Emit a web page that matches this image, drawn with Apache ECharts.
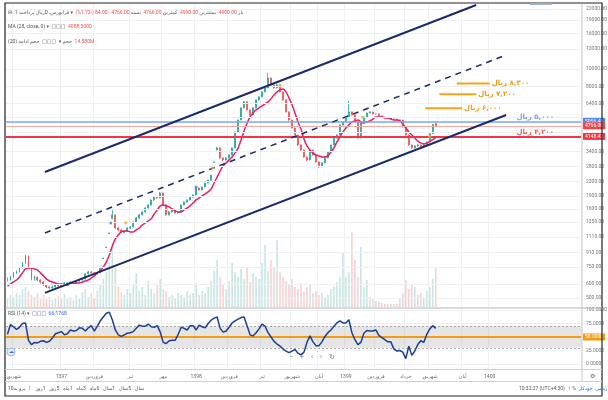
<!DOCTYPE html>
<html><head><meta charset="utf-8">
<script src="https://cdn.jsdelivr.net/npm/echarts@6/dist/echarts.min.js"></script>
<style>html,body{margin:0;padding:0;background:#fff}#c{width:608px;height:400px}</style>
</head><body><div id="c"></div>
<script>
// ---------------- DATA ----------------
const SLOTS = 192;
// [open, close, low, high]
const candles = [
[640,633,620,655],[633,659,628,668],[659,695,650,702],[695,704,685,718],[704,741,698,752],[741,791,735,800],[791,868,785,880],[868,741,735,872],[741,642,630,748],[642,659,628,670],
[659,633,625,664],[633,617,605,640],[617,593,585,622],[593,578,570,600],[578,570,560,585],[570,578,563,588],[578,593,572,600],[593,585,578,598],[585,593,580,600],[593,609,588,615],
[609,601,595,614],[601,617,596,622],[617,609,603,621],[609,625,605,630],[625,633,618,640],[633,642,628,650],[642,686,638,692],[686,704,680,712],[704,695,688,710],[695,686,678,700],
[686,695,680,702],[695,741,692,745],[838,845,835,845],[968,976,965,976],[1162,1172,1160,1172],[1420,1485,1400,1580],[1485,1251,1240,1490],[1251,1219,1200,1270],[1219,1188,1175,1235],[1180,1200,1165,1215],
[1200,1251,1195,1262],[1251,1268,1235,1280],[1268,1353,1260,1365],[1353,1428,1345,1440],[1428,1485,1410,1500],[1485,1544,1470,1560],[1544,1627,1530,1640],[1627,1692,1610,1705],[1692,1806,1680,1820],[1806,1878,1790,1895],
[1878,1854,1830,1890],[1854,1979,1845,2000],[1979,1692,1680,1985],[1692,1485,1470,1700],[1485,1544,1475,1560],[1544,1585,1530,1600],[1585,1524,1510,1595],[1524,1544,1510,1560],[1544,1692,1540,1700],[1692,1759,1680,1770],
[1759,1806,1745,1820],[1806,1878,1795,1890],[1878,1928,1860,1945],[1928,2112,1920,2120],[2112,2058,2040,2125],[2058,2140,2050,2150],[2140,2255,2130,2265],[2255,2345,2245,2350],[2340,2504,2335,2504],[2950,2971,2940,2975],
[3480,3567,3450,3620],[3567,3130,3100,3580],[3130,3050,3000,3150],[3050,3130,3030,3160],[3130,3255,3110,3270],[3255,3567,3240,3580],[3567,4397,3560,4410],[4397,5144,4390,5160],[5144,6033,5130,6050],[6033,6523,6000,6600],
[6523,5870,5820,6540],[5870,5500,5450,5900],[5500,6033,5480,6060],[6033,6696,6010,6720],[6696,6962,6650,7000],[6962,7430,6940,7460],[7430,7827,7400,7860],[7827,8916,7800,9500],[8916,8140,8050,8950],[8140,7827,7750,8200],
[7827,8140,7780,8300],[8140,7430,7380,8160],[7430,6696,6650,7450],[6696,5720,5680,6710],[5720,5144,5100,5750],[5144,4634,4600,5160],[4634,4228,4200,4650],[4228,3710,3680,4240],[3710,3475,3440,3730],[3475,3171,3140,3490],
[3171,3050,3000,3190],[3050,3475,3030,3500],[3475,3255,3220,3490],[3255,2971,2940,3270],[2971,2783,2750,2990],[2783,2933,2770,2950],[2933,3130,2920,3150],[3130,3385,3120,3400],[3385,3710,3370,3730],[3710,4065,3700,4080],
[4065,4228,4040,4260],[4228,4819,4210,4840],[4819,5011,4790,5040],[5011,5280,4990,5310],[5280,5720,5260,6600],[5720,5500,5450,5740],[5500,5011,4980,5520],[5011,4065,4040,5030],[4065,5011,4050,5030],[5011,5355,4990,5380],
[5355,5640,5340,5670],[5640,5720,5600,5760],[5720,5570,5540,5740],[5570,5570,5540,5600],[5570,5430,5410,5580],[5430,5355,5350,5440],[5355,5280,5270,5360],[5280,5280,5270,5290],[5280,5210,5200,5285],[5210,5210,5200,5220],
[5210,5144,5140,5215],[5144,5144,5130,5160],[5144,4695,4660,5150],[4695,4228,4200,4710],[4228,3710,3680,4240],[3710,3567,3520,3730],[3567,3662,3540,3700],[3662,3710,3630,3750],[3710,3614,3580,3730],[3614,3710,3590,3740],
[3710,3858,3700,3880],[3858,4300,3850,4320],[4300,4850,4290,4870],[4900,4766,4700,4990]
];
const maValues = [
585,601,617,633,659,695,732,741,741,732,
723,695,668,642,625,617,609,601,601,593,
593,601,601,609,609,617,625,633,650,668,
695,714,751,802,879,989,1084,1142,1188,1203,
1203,1188,1188,1219,1251,1301,1336,1371,1409,1504,
1585,1670,1692,1670,1648,1606,1564,1544,1544,1585,
1627,1670,1736,1806,1854,1903,1953,2005,2085,2255,
2439,2638,2820,2933,3050,3171,3341,3567,3960,4454,
4946,5355,5640,5870,6033,6193,6355,6523,6782,7146,
7430,7627,7725,7430,6870,6274,5640,5011,4573,4012,
3662,3475,3341,3255,3213,3171,3171,3213,3385,3567,
3858,4119,4397,4634,4819,5011,5077,5144,5011,4946,
5011,5077,5210,5355,5355,5355,5280,5280,5210,5144,
5144,5077,4882,4634,4397,4228,4065,3909,3808,3760,
3800,3880,3980,4088
];
// volume, millions
const volumes = [
3,4.5,3.75,5.25,4.5,6.75,7.5,6,4.5,3.75,
5.25,3.4,4.5,3,3.75,2.6,3.4,4.1,3,4.9,
3.4,3.75,2.6,4.5,3.4,5.6,6.75,3.75,5.25,3.4,
6,8.25,10.5,13.1,16.9,22.5,15,7.5,5.6,4.5,
6.75,5.25,8.25,12.75,6,7.5,4.5,9.75,6.75,5.25,
8.25,10.5,6.75,6,3.75,4.5,3.4,5.25,4.5,3.75,
6,4.5,5.25,9,4.5,6,5.25,7.5,9.75,13.5,
17.6,11.25,8.25,6.75,9.75,16.5,13.1,11.25,14.25,10.5,
15,9.4,12.75,11.25,10.5,16.5,23.25,13.5,17.6,15,
25.1,13.1,11.25,9.75,8.25,10.5,7.5,6.75,9,5.6,
7.5,8.25,5.25,6,4.5,5.25,3.75,4.5,6.75,7.5,
9.4,11.25,20.6,11.25,13.1,28.1,17.6,11.25,22.5,7.5,
10.1,3.75,3,2.25,1.9,1.5,1.1,1.1,1.1,1.1,
1.1,3,5.25,10.1,6.75,8.25,7.5,4.5,5.25,3.75,
6,7.5,10.5,14.58
];
const rsiValues = [
55,73,69,64,68,75,76,44,36,40,
39,42,43,40,42,48,56,58,60,54,
56,63,61,62,67,66,61,67,71,61,
70,80,87,94,96,82,63,54,51,54,
57,58,60,66,72,70,70,74,69,68,
71,59,40,38,43,44,44,55,68,66,
63,71,71,63,72,69,67,75,81,85,
87,66,59,61,68,76,80,83,86,87,
71,54,52,58,65,74,70,58,50,42,
37,33,28,24,21,24,27,20,17,22,
40,52,41,34,34,41,51,58,63,70,
76,80,76,76,82,58,45,36,40,57,
62,61,61,63,53,49,45,41,41,28,
24,25,22,10,33,16,24,36,43,40,
55,65,71,66
];
const priceTicks = [22000,19000,16000,13000,10000,8000,6400,5300,4400,3400,2800,2300,1900,1600,1350,1110,910,750,600,500];
const hiddenPriceTicks = [5300,4400];
const rsiTicks = [100,75,25,0];
const timeTickSlots = [2,18,29,41,52,63,74,85,95,104,113,123,133,141,152,161];
const timeTickLabels = ['شهریور','1397','فروردین','تیر','مهر','1398','فروردین','تیر','شهریور','آبان','1399','فروردین','خرداد','شهریور','آبان','1400'];
// trend channel drawn on chart: [slot, price]
const upperChannel = [[12.5,2604],[156.5,23190]];
const middleChannel = [[12.5,1172],[166.5,12045]];
const lowerChannel = [[12.5,535],[166.5,5491]];
// price levels
const levelValues = [5056.48, 4766.00, 4148.42];
// target levels
const targetPrices = [8300, 7200, 6000];
const targetSpans = [[150,161],[144.2,156.5],[139.5,151.8]];
const targetTexts = ['ریال\u200E ۸,۳۰۰','ریال\u200E ۷,۲۰۰','ریال\u200E ۶,۰۰۰'];
const levelTexts = ['ریال\u200E ۵,۰۰۰','ریال\u200E ۴,۲۰۰'];
const levelTextPoints = [[170.1,5280],[170.1,4380]];
const blueSignals = [[34.5,1336],[63,2140]];
const orangeSignals = [[39.5,1340],[68.5,2740],[91,8140],[118.5,5355],[141,4150]];

// ---------------- CHART ----------------
const UI = 'Roboto, "DejaVu Sans", sans-serif';
const FA = '"DejaVu Sans", sans-serif';
const slotNames = Array.from({length: SLOTS}, (_, i) => { const k = timeTickSlots.indexOf(i); return k >= 0 ? timeTickLabels[k] : ''; });
const isTick = (i) => timeTickSlots.indexOf(i) >= 0;
const volData = volumes.map((v, i) => ({value: v, itemStyle: {color: candles[i][1] >= candles[i][0] ? 'rgba(38,166,154,0.28)' : 'rgba(239,83,80,0.28)'}}));
const GL = 6, GW = 575;
const chart = echarts.init(document.getElementById('c'), null, {renderer: 'canvas'});

const catAxis = (grid, showLabels) => ({
  type: 'category', gridIndex: grid, data: slotNames, boundaryGap: true,
  axisLine: {show: false}, axisTick: {show: false},
  axisLabel: {show: showLabels, interval: (i) => isTick(i), fontSize: 5, color: '#666', fontFamily: UI, margin: 5},
  splitLine: {show: grid !== 1, interval: (i) => isTick(i), lineStyle: {color: '#eef0f4', width: 1}}
});

const option = {
  animation: false,
  backgroundColor: '#fff',
  grid: [
    {left: GL, top: 4, width: GW, height: 303},
    {left: GL, top: 227, width: GW, height: 80},
    {left: GL, top: 309, width: GW, height: 60}
  ],
  xAxis: [
    catAxis(0, false),
    {type: 'value', gridIndex: 0, min: -0.5, max: SLOTS - 0.5, show: false},
    catAxis(1, false),
    catAxis(2, true)
  ],
  yAxis: [
    {type: 'log', gridIndex: 0, min: 444.5, max: 23487, show: false, splitLine: {show: false}},
    {type: 'value', gridIndex: 1, min: 0, max: 30, show: false, splitLine: {show: false}},
    {type: 'value', gridIndex: 2, min: -9.26, max: 101.85, show: false, splitLine: {show: false}}
  ],
  series: [
    { // price scale grid + labels
      type: 'line', xAxisIndex: 1, yAxisIndex: 0, data: [], z: 0,
      markLine: {
        silent: true, symbol: ['none', 'none'], animation: false,
        lineStyle: {color: '#eef0f4', width: 1, type: 'solid'},
        label: {position: 'end', distance: 5, fontSize: 5, color: '#777', fontFamily: UI,
          formatter: (p) => hiddenPriceTicks.indexOf(p.value) >= 0 ? '' : Number(p.value).toFixed(2)},
        data: priceTicks.map(v => ({yAxis: v}))
      }
    },
    {type: 'bar', xAxisIndex: 2, yAxisIndex: 1, data: volData, barWidth: 1.6, z: 1},
    { // horizontal levels
      type: 'line', xAxisIndex: 1, yAxisIndex: 0, data: [], z: 2,
      markLine: {
        silent: true, symbol: ['none', 'none'], animation: false,
        data: [
          {yAxis: levelValues[0], lineStyle: {color: '#7aa7f2', width: 1.5, type: 'solid'},
            label: {position: 'end', distance: 2, formatter: levelValues[0].toFixed(2), backgroundColor: '#4f86ec', color: '#fff', fontSize: 5, padding: [1, 2], fontFamily: UI}},
          {yAxis: levelValues[1], lineStyle: {color: '#f5aaa8', width: 1, type: 'solid'},
            label: {position: 'end', distance: 2, formatter: levelValues[1].toFixed(2), backgroundColor: '#f0444a', color: '#fff', fontSize: 5, padding: [1, 2], fontFamily: UI}},
          {yAxis: levelValues[2], lineStyle: {color: '#f23645', width: 2, type: 'solid'},
            label: {position: 'end', distance: 2, formatter: levelValues[2].toFixed(2), backgroundColor: '#f23645', color: '#fff', fontSize: 5, padding: [1, 2], fontFamily: UI}}
        ]
      }
    },
    {
      type: 'candlestick', xAxisIndex: 0, yAxisIndex: 0, data: candles, barWidth: 1.4, z: 3,
      itemStyle: {color: '#26a69a', color0: '#ef5350', borderColor: '#26a69a', borderColor0: '#ef5350', borderWidth: 0.8}
    },
    {type: 'line', xAxisIndex: 0, yAxisIndex: 0, data: maValues, showSymbol: false, smooth: 0.3, z: 4,
      lineStyle: {color: '#e91e63', width: 1.5}},
    {type: 'line', xAxisIndex: 1, yAxisIndex: 0, data: upperChannel, showSymbol: false, z: 5, lineStyle: {color: '#1b2a6b', width: 2}},
    {type: 'line', xAxisIndex: 1, yAxisIndex: 0, data: middleChannel, showSymbol: false, z: 5, lineStyle: {color: '#1b2a6b', width: 1.5, type: [6, 5]}},
    {type: 'line', xAxisIndex: 1, yAxisIndex: 0, data: lowerChannel, showSymbol: false, z: 5, lineStyle: {color: '#1b2a6b', width: 2}},
    ...targetPrices.map((p, k) => ({
      type: 'line', xAxisIndex: 1, yAxisIndex: 0, showSymbol: false, z: 6,
      data: [[targetSpans[k][0], p], [targetSpans[k][1], p]],
      lineStyle: {color: '#f7a21b', width: 2},
      endLabel: {show: true, formatter: () => targetTexts[k], distance: 2, color: '#f39c12', fontSize: 7, fontWeight: 'bold', fontFamily: FA}
    })),
    ...levelTextPoints.map((pt, k) => ({
      type: 'scatter', xAxisIndex: 1, yAxisIndex: 0, symbolSize: 1, z: 6,
      itemStyle: {color: 'rgba(0,0,0,0)'},
      data: [pt],
      label: {show: true, position: [0, 0], align: 'left', verticalAlign: 'middle', formatter: () => levelTexts[k],
        color: k === 0 ? '#5b8def' : '#e53935', fontSize: 7, fontWeight: 'bold', fontFamily: FA}
    })),
    {type: 'scatter', xAxisIndex: 1, yAxisIndex: 0, symbolSize: 3, z: 7, data: blueSignals, itemStyle: {color: '#2f80ed'}},
    {type: 'scatter', xAxisIndex: 1, yAxisIndex: 0, symbolSize: 3, z: 7, data: orangeSignals, itemStyle: {color: '#f5b400'}},
    { // RSI
      type: 'line', xAxisIndex: 3, yAxisIndex: 2, data: rsiValues, showSymbol: false, z: 5,
      lineStyle: {color: '#1c3f94', width: 1.5},
      markArea: {silent: true, itemStyle: {color: 'rgba(175,175,175,0.33)'}, data: [[{yAxis: 30}, {yAxis: 70}]]},
      markLine: {
        silent: true, symbol: ['none', 'none'], animation: false,
        data: [
          {yAxis: 70, lineStyle: {color: '#8a8a8a', width: 0.7, type: [2, 2]}, label: {show: false}},
          {yAxis: 30, lineStyle: {color: '#8a8a8a', width: 0.7, type: [2, 2]}, label: {show: false}},
          {yAxis: 50, lineStyle: {color: '#f39c12', width: 2, type: 'solid'},
            label: {position: 'end', distance: 2, formatter: '50.0000', backgroundColor: '#f39c12', color: '#fff', fontSize: 5, padding: [1, 2], fontFamily: UI}}
        ]
      }
    },
    {
      type: 'line', xAxisIndex: 3, yAxisIndex: 2, data: [], z: 0,
      markLine: {
        silent: true, symbol: ['none', 'none'], animation: false,
        lineStyle: {color: '#eef0f4', width: 1, type: 'solid'},
        label: {position: 'end', distance: 5, fontSize: 5, color: '#777', fontFamily: UI, formatter: (p) => Number(p.value).toFixed(4)},
        data: rsiTicks.map(v => ({yAxis: v}))
      }
    }
  ],
  graphic: [
    {type: 'rect', shape: {x: 5, y: 3, width: 597, height: 393}, style: {fill: 'none', stroke: '#222', lineWidth: 1.2}, z: 100},
    {type: 'rect', shape: {x: 530, y: 3, width: 22, height: 2}, style: {fill: '#9fb3c8'}, z: 100},
    {type: 'line', shape: {x1: 582, y1: 4, x2: 582, y2: 381}, style: {stroke: '#c9c9c9', lineWidth: 1}, z: 100},
    {type: 'line', shape: {x1: 5, y1: 308, x2: 602, y2: 308}, style: {stroke: '#b5b5b5', lineWidth: 1.2}, z: 100},
    {type: 'line', shape: {x1: 5, y1: 369.5, x2: 602, y2: 369.5}, style: {stroke: '#cfcfcf', lineWidth: 1}, z: 100},
    {type: 'line', shape: {x1: 5, y1: 381.5, x2: 602, y2: 381.5}, style: {stroke: '#cfcfcf', lineWidth: 1}, z: 100},
    {type: 'text', x: 8, y: 13, z: 100, style: {
      text: '{g|⊟  ریال پرداخت 1D ,فرابورس ▾}  {r|(%1.73-) 84.00-  4766.00}{g| بسته  }{r|4766.00}{g| کمترین  }{r|4990.00}{g| بیشترین  }{r|4900.00}{g| باز}',
      verticalAlign: 'middle', fontSize: 5, fontFamily: UI,
      rich: {g: {fill: '#555', fontSize: 5, fontFamily: UI}, r: {fill: '#ef5350', fontSize: 5, fontFamily: UI}}}},
    {type: 'text', x: 8, y: 27, z: 100, style: {
      text: '{g|MA (28, close, 0) ▾  □□□  }{r|4088.5000}',
      verticalAlign: 'middle', fontSize: 5, fontFamily: UI,
      rich: {g: {fill: '#555', fontSize: 5, fontFamily: UI}, r: {fill: '#ef5350', fontSize: 5, fontFamily: UI}}}},
    {type: 'text', x: 8, y: 42, z: 100, style: {
      text: '{g|(20) حجم ▾  □□□  حجم ادامه  }{r|14.580M}',
      verticalAlign: 'middle', fontSize: 5, fontFamily: UI,
      rich: {g: {fill: '#555', fontSize: 5, fontFamily: UI}, r: {fill: '#ef5350', fontSize: 5, fontFamily: UI}}}},
    {type: 'text', x: 8, y: 314, z: 100, style: {
      text: '{g|RSI (14) ▾  □□□  }{b|66.1768}',
      verticalAlign: 'middle', fontSize: 5, fontFamily: UI,
      rich: {g: {fill: '#555', fontSize: 5, fontFamily: UI}, b: {fill: '#2962ff', fontSize: 5, fontFamily: UI}}}},
    {type: 'circle', shape: {cx: 11, cy: 352, r: 4}, style: {fill: '#e3edfc', stroke: '#5b8def', lineWidth: 0.6}, z: 100},
    {type: 'text', x: 11, y: 352, z: 101, style: {text: '☁', fill: '#2f6fd6', fontSize: 5, align: 'center', verticalAlign: 'middle'}},
    {type: 'text', x: 312, y: 357, z: 100, style: {text: '−    +    ‹    ›    ↻', fill: '#777', fontSize: 7, fontFamily: UI, align: 'center', verticalAlign: 'middle'}},
    {type: 'text', x: 592, y: 376, z: 100, style: {text: '⚙', fill: '#666', fontSize: 6, align: 'center', verticalAlign: 'middle'}},
    {type: 'text', x: 8, y: 389, z: 100, style: {text: '10سال   5سال   1سال   6ماه   3ماه   1ماه   5روز   1روز    |   برو به', fill: '#555', fontSize: 5, fontFamily: UI, verticalAlign: 'middle'}},
    {type: 'text', x: 519, y: 389, z: 100, style: {
      text: '{g|10:32:27 (UTC+4:30)   |  %  }{b|لگاریتمی  خودکار}',
      verticalAlign: 'middle', fontSize: 5, fontFamily: UI,
      rich: {g: {fill: '#555', fontSize: 5, fontFamily: UI}, b: {fill: '#2962ff', fontSize: 5, fontFamily: UI}}}}
  ]
};
chart.setOption(option);
</script>
</body></html>
